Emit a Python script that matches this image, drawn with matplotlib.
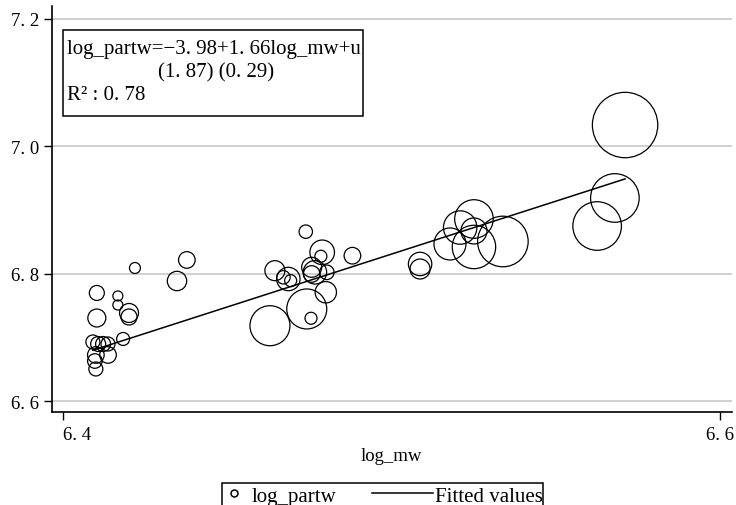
import numpy as np
import matplotlib
matplotlib.use("Agg")
import matplotlib.pyplot as plt
from matplotlib.lines import Line2D
from matplotlib.patches import Rectangle

plt.rcParams["font.family"] = ["Liberation Serif", "DejaVu Serif"]

# -------------------------
# Data
# -------------------------
log_mw = [
    6.4103, 6.4167, 6.4167, 6.4103, 6.4201, 6.4201, 6.4183, 6.4091,
    6.4107, 6.4122, 6.4137, 6.4100, 6.4137, 6.4097, 6.4100,
    6.4219, 6.4377, 6.4347,
    6.4739, 6.4789, 6.4785, 6.4881, 6.4645, 6.4686, 6.4693, 6.4671,
    6.4757, 6.4767, 6.4757, 6.4803, 6.4800, 6.4742, 6.4755, 6.4630,
    6.5087, 6.5087, 6.5178, 6.5209, 6.5251, 6.5251, 6.5251, 6.5339,
    6.5626, 6.5680, 6.5711,
]
log_partw = [
    6.7700, 6.7653, 6.7511, 6.7307, 6.7386, 6.7323, 6.6978, 6.6931,
    6.6899, 6.6899, 6.6899, 6.6727, 6.6727, 6.6632, 6.6507,
    6.8092, 6.8218, 6.7888,
    6.8662, 6.8338, 6.8276, 6.8285, 6.8050, 6.7919, 6.7893, 6.7946,
    6.8103, 6.8024, 6.7998, 6.8024, 6.7711, 6.7449, 6.7303, 6.7186,
    6.8155, 6.8076, 6.8469, 6.8727, 6.8861, 6.8673, 6.8422, 6.8508,
    6.8751, 6.9191, 7.0336,
]
# analytic weights (marker area is proportional to them)
weight = [
    56, 25, 25, 81, 90, 64, 42, 49,
    56, 56, 49, 69, 69, 53, 49,
    30, 69, 94,
    45, 151, 36, 69, 100, 137, 36, 45,
    100, 137, 69, 53, 114, 400, 36, 400,
    137, 100, 256, 279, 372, 169, 471, 640,
    590, 590, 1069,
]

fit_intercept = -3.959
fit_slope = 1.66

eq_text = "log_partw=\u22123. 98+1. 66log_mw+u"
se_text = "(1. 87) (0. 29)"
r2_text = "R\u00b2 : 0. 78"

x_ticks = [6.4, 6.6]
x_tick_labels = ["6. 4", "6. 6"]
y_ticks = [6.6, 6.8, 7.0, 7.2]
y_tick_labels = ["6. 6", "6. 8", "7. 0", "7. 2"]

legend_labels = ["log_partw", "Fitted values"]

# -------------------------
# Figure / axes
# -------------------------
W, H = 736, 506
fig = plt.figure(figsize=(W / 100, H / 100), dpi=100)
ax = fig.add_axes([51.7 / W, 1 - 413.3 / H, 680 / W, 406.3 / H])

x = np.array(log_mw)
y = np.array(log_partw)
w = np.array(weight, dtype=float)

# px radius^2 -> points^2 of the diameter
ax.scatter(x, y, s=w * (2 * 0.72) ** 2, facecolors="none",
           edgecolors="black", linewidths=0.9, zorder=3)

xf = np.array([x.min(), x.max()])
ax.plot(xf, fit_intercept + fit_slope * xf, color="black", lw=1.1, zorder=4)

ax.set_xlim(6.39656, 6.60356)
ax.set_ylim(6.5827, 7.2204)

ax.set_yticks(y_ticks, labels=y_tick_labels)
ax.set_xticks(x_ticks, labels=x_tick_labels)
xl = ax.get_xticklabels()
xl[0].set_horizontalalignment("left")

ax.tick_params(axis="both", direction="out", length=6, width=1,
               color="black", labelsize=13.5, pad=3)
ax.tick_params(axis="x", pad=4)

ax.grid(axis="y", color="#c4c4c4", lw=1.1)
ax.set_axisbelow(True)
for side in ("top", "right"):
    ax.spines[side].set_visible(False)
for side in ("left", "bottom"):
    ax.spines[side].set_linewidth(1.2)

ax.set_xlabel("log_mw", fontsize=13.5, labelpad=3)


def px(xp, yp):
    return xp / W, 1 - yp / H


# -------------------------
# Equation box
# -------------------------
bx0, by0, bx1, by1 = 63, 31, 363, 117
fig.add_artist(Rectangle(px(bx0, by1), (bx1 - bx0) / W, (by1 - by0) / H,
                         transform=fig.transFigure, fill=False,
                         edgecolor="black", lw=1.1))
fig.text(*px(67, 54), eq_text, fontsize=15, va="baseline", ha="left")
fig.text(*px(216, 77), se_text, fontsize=15, va="baseline", ha="center")
fig.text(*px(67, 100), r2_text, fontsize=15, va="baseline", ha="left")

# -------------------------
# Legend (cut by the bottom edge, as in the reference)
# -------------------------
lx0, ly0, lx1, ly1 = 222, 484, 543, 530
fig.add_artist(Rectangle(px(lx0, ly1), (lx1 - lx0) / W, (ly1 - ly0) / H,
                         transform=fig.transFigure, fill=False,
                         edgecolor="black", lw=1.1))
mx, my = px(233.5, 493.5)
fig.add_artist(Line2D([mx], [my], ls="none", marker="o", mfc="none",
                      mec="black", markersize=5, mew=1.1,
                      transform=fig.transFigure))
fig.text(*px(252, 502), legend_labels[0], fontsize=15, va="baseline", ha="left")
l0, ly = px(372, 493.5)
l1, _ = px(433, 493.5)
fig.add_artist(Line2D([l0, l1], [ly, ly], color="black", lw=1.1,
                      transform=fig.transFigure))
fig.text(*px(435, 502), legend_labels[1], fontsize=15, va="baseline", ha="left")

fig.savefig("out.png", dpi=100)
